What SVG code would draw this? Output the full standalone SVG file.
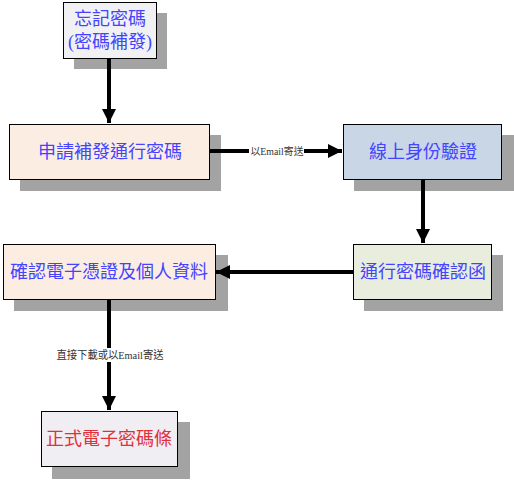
<svg xmlns="http://www.w3.org/2000/svg" width="514" height="480" viewBox="0 0 514 480">
<defs>
<style>
.shadow{fill:#a3a3a3}
.box{stroke:#000;stroke-width:1}
.t{font-family:"Liberation Serif","Noto Sans CJK TC",serif;font-size:18px;fill:#4444ff;text-anchor:middle;dominant-baseline:central}
.red{fill:#e0303a}
.lbl{font-family:"Liberation Serif","Noto Sans CJK TC",serif;fill:#333;text-anchor:middle;dominant-baseline:central}
.line{stroke:#000;stroke-width:4;fill:none}
</style>
<marker id="ah" viewBox="0 0 10 10" refX="10" refY="5" markerUnits="userSpaceOnUse" markerWidth="14" markerHeight="14" orient="auto">
<path d="M0,0 L10,5 L0,10 Z" fill="#000"/>
</marker>
</defs>
<rect width="514" height="480" fill="#fff"/>
<g id="n1">
<rect class="shadow" x="74" y="13" width="93" height="56"/>
<rect class="box" x="63.5" y="2.5" width="93" height="56" fill="#f1f1f3"/>
<text class="t" x="110" y="19">忘記密碼</text>
<text class="t" x="110" y="42">(密碼補發)</text>
</g>
<g id="n2">
<rect class="shadow" x="20" y="135" width="201" height="56"/>
<rect class="box" x="9.5" y="124.5" width="200" height="55" fill="#fcede3"/>
<text class="t" x="110" y="152">申請補發通行密碼</text>
</g>
<g id="n3">
<rect class="shadow" x="354" y="135" width="160" height="56"/>
<rect class="box" x="343.5" y="124.5" width="158" height="55" fill="#c9d6e6"/>
<text class="t" x="423" y="152">線上身份驗證</text>
</g>
<g id="n4">
<rect class="shadow" x="364" y="255" width="139" height="56"/>
<rect class="box" x="353.5" y="244.5" width="138" height="55" fill="#e8eddd"/>
<text class="t" x="423" y="272">通行密碼確認函</text>
</g>
<g id="n5">
<rect class="shadow" x="14" y="255" width="214" height="56"/>
<rect class="box" x="3.5" y="244.5" width="212" height="55" fill="#fcede3"/>
<text class="t" x="109" y="272">確認電子憑證及個人資料</text>
</g>
<g id="n6">
<rect class="shadow" x="52" y="422" width="138" height="57"/>
<rect class="box" x="41.5" y="411.5" width="136" height="55" fill="#f0eef3"/>
<text class="t red" x="109" y="439">正式電子密碼條</text>
</g>
<g id="connectors">
<line class="line" x1="109" y1="58" x2="109" y2="123" marker-end="url(#ah)"/>
<line class="line" x1="209" y1="151" x2="342" y2="151" marker-end="url(#ah)"/>
<rect x="249" y="145" width="55" height="12" fill="#fff"/>
<text class="lbl" x="277" y="151" font-size="10" textLength="53" lengthAdjust="spacingAndGlyphs">以Email寄送</text>
<line class="line" x1="423" y1="179" x2="423" y2="243" marker-end="url(#ah)"/>
<line class="line" x1="353" y1="272" x2="216" y2="272" marker-end="url(#ah)"/>
<line class="line" x1="109" y1="300" x2="109" y2="410" marker-end="url(#ah)"/>
<rect x="55" y="348" width="109" height="14" fill="#fff"/>
<text class="lbl" x="110" y="355" font-size="11" textLength="107" lengthAdjust="spacingAndGlyphs">直接下載或以Email寄送</text>
</g>
</svg>
